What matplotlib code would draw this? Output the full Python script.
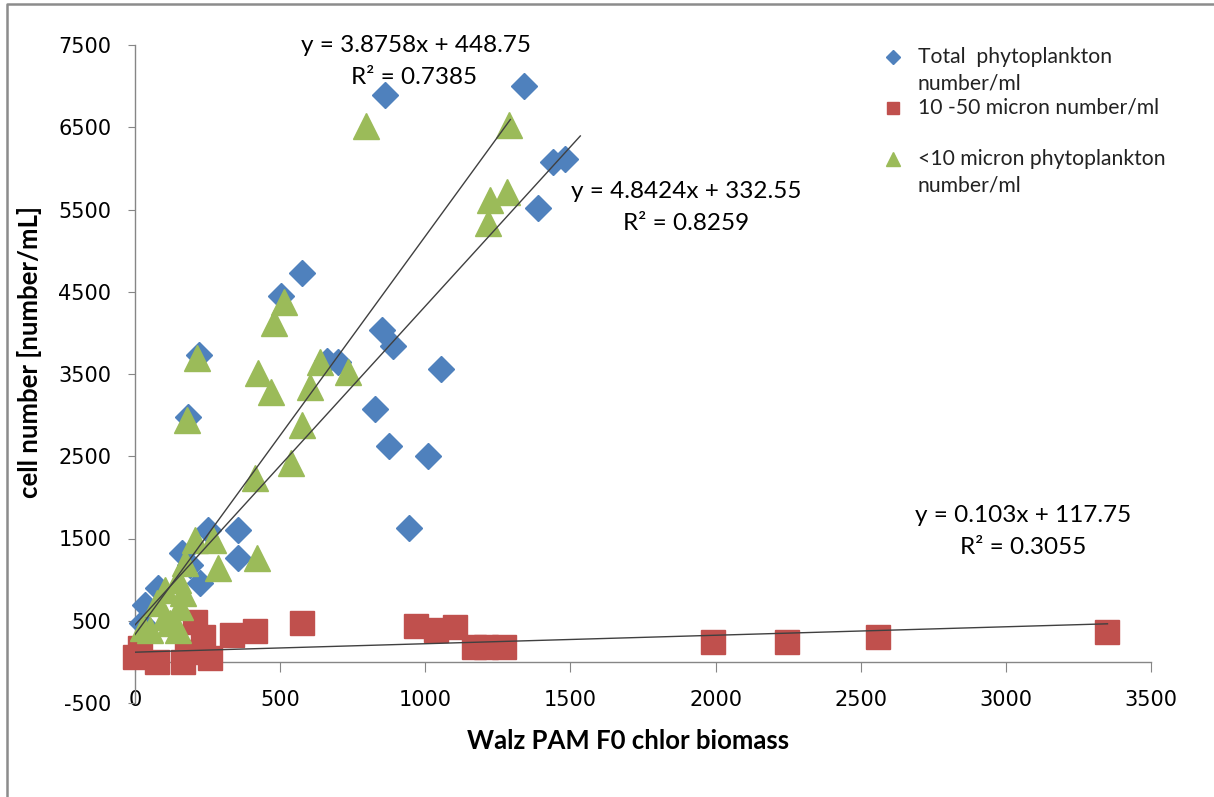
import matplotlib
matplotlib.use("Agg")
import matplotlib.pyplot as plt
from matplotlib.lines import Line2D

plt.rcParams["axes.unicode_minus"] = False

# Total phytoplankton number/ml
total_x = [1340, 860, 1440, 1480, 1390, 575, 502, 850, 888, 660, 700, 1055, 828, 874,
           1010, 943, 220, 182, 252, 356, 356, 161, 189, 224, 80, 34, 23]
total_y = [7000, 6890, 6080, 6110, 5520, 4730, 4450, 4040, 3840, 3660, 3640, 3560, 3080, 2620,
           2505, 1630, 3730, 2980, 1605, 1605, 1261, 1321, 1179, 957, 896, 693, 474]

# 10 -50 micron number/ml
mid_x = [0, 17, 75, 166, 258, 178, 206, 235, 333, 413, 574, 967, 1038, 1103, 1167, 1210,
         1270, 1990, 2245, 2560, 3350]
mid_y = [65, 170, 4, 4, 45, 125, 490, 308, 328, 380, 470, 441, 389, 422, 186, 186,
         186, 244, 236, 305, 358]

# <10 micron phytoplankton number/ml
small_x = [795, 1290, 1280, 1224, 1215, 513, 478, 212, 424, 468, 637, 733, 602, 574, 178,
           536, 413, 419, 206, 270, 287, 172, 149, 166, 103, 75, 120, 148, 52, 28, 103, 155]
small_y = [6510, 6530, 5718, 5617, 5337, 4380, 4120, 3696, 3513, 3283, 3650, 3526, 3344, 2882,
           2942, 2416, 2237, 1264, 1483, 1483, 1139, 1200, 997, 835, 875, 713, 474, 389, 389,
           413, 551, 672]

# trendlines (slope, intercept, x range) as printed on the chart
fit_total = (3.8758, 448.75, [0, 1534])
fit_small = (4.8424, 332.55, [0, 1293])
fit_mid = (0.103, 117.75, [0, 3350])

xticks = [0, 500, 1000, 1500, 2000, 2500, 3000, 3500]
yticks = [-500, 500, 1500, 2500, 3500, 4500, 5500, 6500, 7500]

blue = "#4F81BD"
red = "#C0504D"
green = "#9BBB59"
axis_grey = "#868686"
txt_font = "Lato"

W, H = 1214, 797
fig = plt.figure(figsize=(W / 100, H / 100), dpi=100)
ax = fig.add_axes([135 / W, (H - 703) / H, 1016 / W, 658 / H])

def fx(px):
    return px / W

def fy(py):
    return 1 - py / H

ax.plot(total_x, total_y, ls="none", marker="D", ms=13, color=blue, mec=blue, clip_on=False, zorder=3)
ax.plot(mid_x, mid_y, ls="none", marker="s", ms=17, color=red, mec=red, clip_on=False, zorder=4)
ax.plot(small_x, small_y, ls="none", marker="^", ms=18.5, color=green, mec=green, clip_on=False, zorder=5)

for slope, icpt, xr in [fit_total, fit_small, fit_mid]:
    ax.plot(xr, [slope * v + icpt for v in xr], color="#404040", lw=1.0, zorder=6)

ax.set_xlim(0, 3500)
ax.set_ylim(-500, 7500)
ax.set_xticks(xticks)
ax.set_yticks(yticks)
ax.spines["top"].set_visible(False)
ax.spines["right"].set_visible(False)
ax.spines["bottom"].set_position(("data", 0))
for s in ["left", "bottom"]:
    ax.spines[s].set_color(axis_grey)
    ax.spines[s].set_linewidth(1.0)
ax.tick_params(axis="x", direction="out", length=7, color=axis_grey, pad=13, labelsize=15)
ax.tick_params(axis="y", direction="out", length=5, color=axis_grey, pad=12, labelsize=15)
for lab in ax.get_xticklabels() + ax.get_yticklabels():
    lab.set_fontfamily("DejaVu Sans")

fig.text(fx(628), fy(741), "Walz PAM F0 chlor biomass", ha="center", va="center",
         fontsize=18.5, fontweight="bold", family=txt_font)
fig.text(fx(30), fy(352), "cell number [number/mL]", ha="center", va="center", rotation=90,
         fontsize=18.5, fontweight="bold", family=txt_font)

# equations
eqs = [(416, 45, "y = 3.8758x + 448.75"), (414, 77, "R² = 0.7385"),
       (686, 192, "y = 4.8424x + 332.55"), (686, 223, "R² = 0.8259"),
       (1023, 516, "y = 0.103x + 117.75"), (1023, 547, "R² = 0.3055")]
for px, py, s in eqs:
    fig.text(fx(px), fy(py), s, ha="center", va="center", fontsize=17.5, family=txt_font)

# legend
leg = [(57, "D", 7.5, blue, ["Total  phytoplankton", "number/ml"]),
       (108, "s", 9, red, ["10 -50 micron number/ml"]),
       (159, "^", 10, green, ["<10 micron phytoplankton", "number/ml"])]
for py, m, ms, c, lines in leg:
    fig.add_artist(Line2D([fx(893)], [fy(py)], marker=m, ms=ms, color=c, ls="none",
                          transform=fig.transFigure))
    for i, s in enumerate(lines):
        fig.text(fx(918), fy(py + i * 26), s, ha="left", va="center", fontsize=15.2,
                 family=txt_font, color="#222222")

# chart area border (only top/left visible in the crop)
fig.add_artist(Line2D([fx(7), fx(7), 1], [0, fy(4), fy(4)], color="#8c8c8c", lw=1.8,
                      transform=fig.transFigure))

fig.savefig("out.png", dpi=100)
